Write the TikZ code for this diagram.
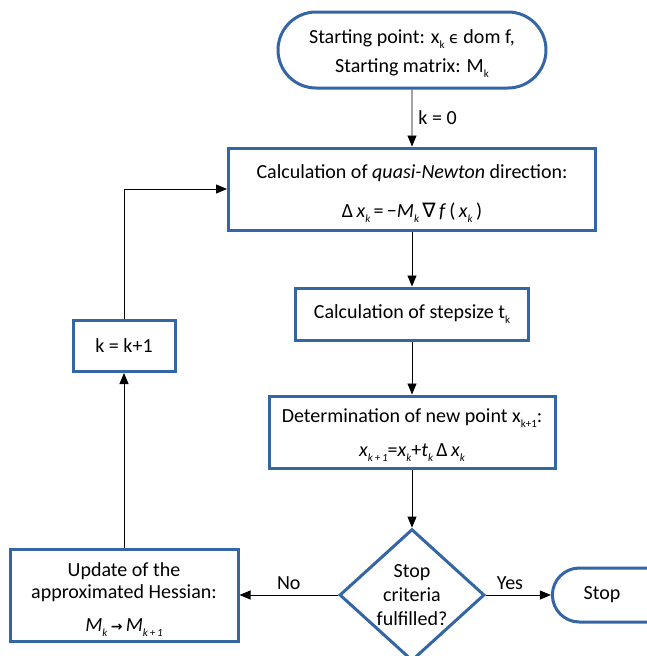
\documentclass[tikz,border=0pt]{standalone}
\usepackage{fontspec}
\setmainfont{Carlito}
\newfontfamily\symf{DejaVu Sans}
\usetikzlibrary{arrows.meta,shapes.geometric,shapes.misc}
\definecolor{lo}{HTML}{3465A4}
\newcommand\mysub[1]{\raisebox{-5pt}{\fontsize{11}{11}\selectfont\itshape #1}}
\newcommand\rsub[1]{\raisebox{-5pt}{\fontsize{11}{11}\selectfont #1}}
\newcommand\tstrut[1]{\rule{0pt}{#1}}
\tikzset{
 box/.style={draw=lo, line width=3pt, fill=white, rectangle, inner sep=0pt, align=center, font=\fontsize{20}{22}\selectfont},
 term/.style={box, rounded rectangle},
 dia/.style={box, diamond},
 conn/.style={draw=black, line width=0.9pt, -{Triangle[length=11pt,width=9pt]}},
 lbl/.style={font=\fontsize{20}{22}\selectfont, inner sep=2pt}
}
\begin{document}
\begin{tikzpicture}[x=1pt,y=-1pt]
\useasboundingbox (0,0) rectangle (647,656);
\clip (0,0) rectangle (647,656);
\node[term, minimum width=268pt, minimum height=76pt] (start) at (412,50)
  {\tstrut{20pt}Starting point: x\rsub{k} {\symf\fontsize{16}{18}\selectfont ϵ} dom f,\\[7pt] Starting matrix: M\rsub{k}};
\node[box, minimum width=367pt, minimum height=82pt] (b1) at (412,189)
  {\tstrut{23pt}Calculation of \textit{quasi-Newton} direction:\\[17pt]
   Δ\,\textit{x}\mysub{k}\,=\,−\textit{M}\mysub{k}\,{\symf ∇}\,\textit{f}\,(\,\textit{x}\mysub{k}\,)};
\node[box, minimum width=233pt, minimum height=52pt] (b2) at (412,314)
  {Calculation of stepsize t\rsub{k}};
\node[box, minimum width=286pt, minimum height=72pt] (b3) at (412,432)
  {\tstrut{19pt}Determination of new point x\rsub{k+1}:\\[12pt]
   \textit{x}\mysub{k\,+\,1}=\textit{x}\mysub{k}+\textit{t}\mysub{k}\,Δ\,\textit{x}\mysub{k}};
\node[dia, minimum width=145pt, minimum height=128pt, font=\fontsize{20}{24}\selectfont] (dia) at (412,595)
  {Stop\\criteria\\fulfilled?};
\node[term, rounded rectangle right arc=none, minimum width=98pt, minimum height=54pt] (stop) at (602,595) {Stop};
\node[box, minimum width=228pt, minimum height=92pt] (upd) at (124,595)
  {\tstrut{22pt}Update of the\\approximated Hessian:\\[11pt]
   \textit{M}\mysub{k}\,{\symf\fontsize{14}{16}\selectfont\bfseries →}\,\textit{M}\mysub{k\,+\,1}};
\node[box, minimum width=102pt, minimum height=51pt] (kb) at (124,346) {k = k+1};
\draw[conn] (start) -- node[right, lbl, xshift=4pt]{k = 0} (b1);
\draw[conn] (b1) -- (b2);
\draw[conn] (b2) -- (b3);
\draw[conn] (b3) -- (dia);
\draw[conn] (dia.west) -- node[above, lbl, yshift=3pt]{No} (upd.east);
\draw[conn] (dia.east) -- node[above, lbl, yshift=3pt, pos=0.37]{Yes} (stop.west);
\draw[conn] (upd) -- (kb);
\draw[conn] (kb.north) |- (b1.west);
\end{tikzpicture}
\end{document}
